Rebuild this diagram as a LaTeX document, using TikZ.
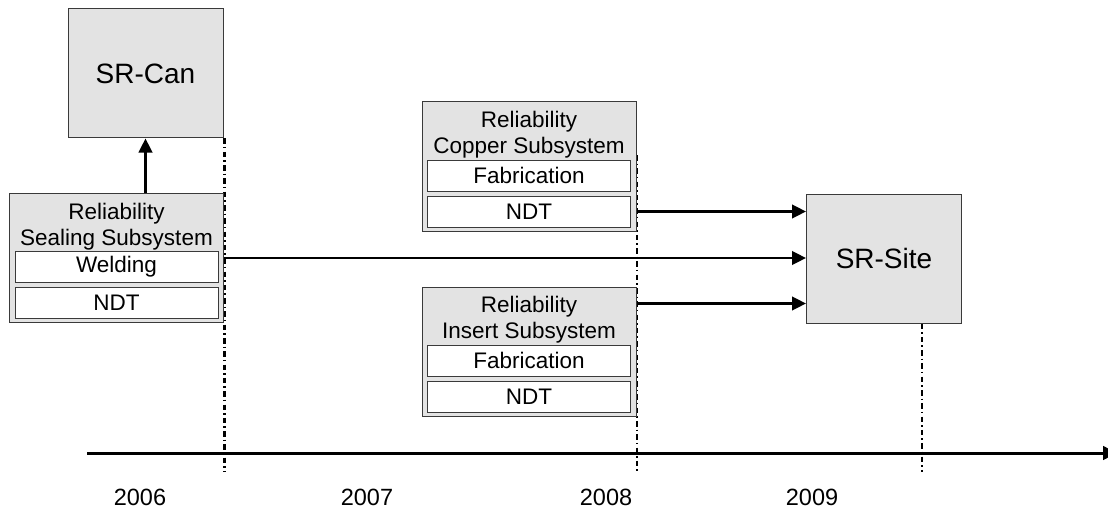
\documentclass[tikz,border=0pt]{standalone}
\usepackage{fontspec}
\setmainfont{Liberation Sans}
\usetikzlibrary{arrows.meta,positioning}
\definecolor{BoxGray}{HTML}{E3E3E3}
\definecolor{EdgeGray}{HTML}{3A3A3A}

\begin{document}
\begin{tikzpicture}[x=1pt,y=-1pt,>={Triangle[length=14pt,width=13.5pt]},
    bigbox/.style={draw=EdgeGray,line width=1pt,fill=BoxGray,minimum width=155pt,minimum height=129pt,font=\fontsize{28}{32}\selectfont},
    groupbox/.style={draw=EdgeGray,line width=1pt,fill=BoxGray,minimum width=214pt,minimum height=129pt},
    grouptitle/.style={align=center,inner sep=0pt,font=\fontsize{22.5}{26}\selectfont},
    taskbox/.style={draw=EdgeGray,line width=1pt,fill=white,minimum width=203pt,minimum height=31pt,inner sep=0pt,font=\fontsize{22.5}{26}\selectfont},
    flow/.style={->,line width=2.6pt},
    milestone/.style={line width=2.6pt,dash pattern=on 5.5pt off 3pt on 1.5pt off 3.3pt},
    year/.style={font=\fontsize{23.5}{28}\selectfont}]
    \useasboundingbox (0,0) rectangle (1108,508);

    % time axis, its head runs off the right edge
    \coordinate (axis0) at (87,453);
    \coordinate (axis1) at (1117,453);
    \coordinate (tickend) at (0,472);
    \draw[->,line width=3pt] (axis0) -- (axis1);
    \node[year] (y2006) at (140,497) {2006};
    \node[year] (y2007) at (367,497) {2007};
    \node[year] (y2008) at (606,497) {2008};
    \node[year] (y2009) at (812,497) {2009};

    % reports
    \node[bigbox] (srcan) at (145.5,73.5) {SR-Can};
    \node[bigbox] (srsite) at (884,258.5) {SR-Site};

    % milestones behind the boxes
    \draw[milestone] ([xshift=1pt]srcan.south east) -- ([xshift=1pt]srcan.south east |- tickend);
    \draw[milestone] (637,155) -- (637,155 |- tickend);
    \draw[milestone] ([xshift=38pt]srsite.south) -- ([xshift=38pt]srsite.south |- tickend);

    % sealing subsystem
    \node[groupbox] (sealing) at (116.5,258) {};
    \node[grouptitle,below=9.5pt of sealing.north] (sealing-t) {Reliability\\Sealing Subsystem};
    \node[taskbox,below=58pt of sealing.north] (weld) {Welding};
    \node[taskbox,below=4pt of weld] (sndt) {NDT};

    % copper subsystem
    \node[groupbox] (copper) at (529,166.5) {};
    \node[grouptitle,below=9.5pt of copper.north] (copper-t) {Reliability\\Copper Subsystem};
    \node[taskbox,below=58pt of copper.north] (cfab) {Fabrication};
    \node[taskbox,below=4pt of cfab] (cndt) {NDT};

    % insert subsystem
    \node[groupbox] (insert) at (529,351.5) {};
    \node[grouptitle,below=9.5pt of insert.north] (insert-t) {Reliability\\Insert Subsystem};
    \node[taskbox,below=58pt of insert.north] (ifab) {Fabrication};
    \node[taskbox,below=4pt of ifab] (indt) {NDT};

    % inputs
    \coordinate (site-in) at ([yshift=20pt]srsite.south west);
    \draw[flow] (srcan.south |- sealing.north) -- (srcan.south);
    \draw[flow] (copper.east |- cndt) -- (srsite.west |- cndt);
    \draw[flow] (sealing.east) -- (srsite.west |- sealing.east);
    \draw[flow] (insert.east |- site-in) -- (site-in);
\end{tikzpicture}
\end{document}
